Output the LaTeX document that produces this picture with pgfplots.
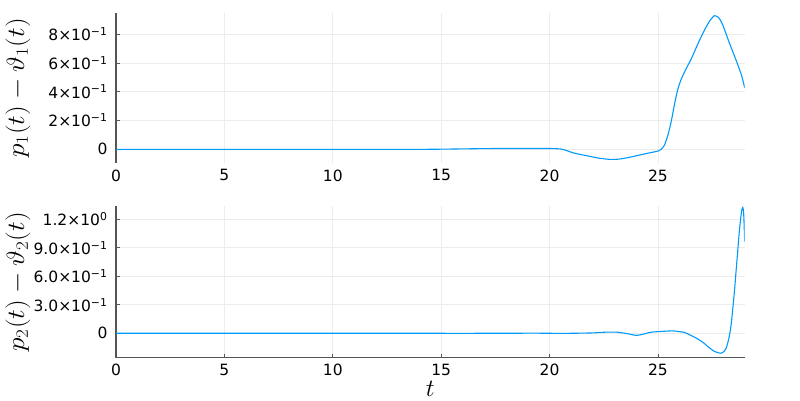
\documentclass[border=0pt]{standalone}
\usepackage{fontspec}
\setmainfont{DejaVu Sans}
\usepackage{pgfplots}
\pgfplotsset{compat=1.18}
\definecolor{jblue}{RGB}{0,154,250}
\definecolor{spine}{RGB}{85,85,85}
\definecolor{gridc}{RGB}{236,236,236}
\pgfplotsset{jl/.style={
  scale only axis, width=628.7pt, xmin=0, xmax=29,
  axis x line*=bottom, axis y line*=left,
  xtick={0,5,...,25}, grid=major, major grid style={gridc, line width=0.7pt},
  tick align=inside, major tick length=4pt, tick style={spine, line width=0.8pt},
  axis line style={spine, line width=1.1pt},
  ticklabel style={font=\fontsize{15.5}{17}\selectfont},
  yticklabel style={xshift=-5pt}, xticklabel style={yshift=-3pt},
  /pgf/number format/assume math mode=true,
  every axis y label/.style={at={(axis description cs:-0.156,0.5)}, rotate=90, anchor=center, font=\fontsize{25}{27}\selectfont},
}}
\tikzset{jline/.style={color=jblue, line width=1.1pt, mark=none, smooth, tension=0.4}}
\begin{document}
\begin{tikzpicture}
\path[use as bounding box] (0,0) rectangle (800pt,400pt);
\begin{axis}[jl, at={(116pt,237pt)}, anchor=south west, height=150.3pt,
  ymin=-0.095, ymax=0.949,
  x axis line style={draw=none}, xtick style={draw=none},
  ytick={0,0.2,0.4,0.6,0.8},
  yticklabels={0, {2×10\textsuperscript{−1}}, {4×10\textsuperscript{−1}}, {6×10\textsuperscript{−1}}, {8×10\textsuperscript{−1}}},
  ylabel={\scalebox{1.1}[1]{$p_1(t) - \vartheta_1(t)$}}]
\addplot[jline] coordinates {(0,0)(5,0)(10,0)(14,0)(15,0.001)(16,0.003)(17,0.005)(18,0.006)(19,0.006)(19.6,0.006)(20.2,0.005)(20.6,0.0)(21.1,-0.025)(21.5,-0.038)(21.9,-0.05)(22.3,-0.062)(22.8,-0.07)(23.2,-0.068)(23.7,-0.055)(24.2,-0.038)(24.6,-0.025)(25.0,-0.012)(25.15,0.0)(25.3,0.03)(25.46,0.10)(25.62,0.2)(25.77,0.32)(25.92,0.42)(26.08,0.49)(26.3,0.56)(26.54,0.63)(26.85,0.736)(27.15,0.83)(27.38,0.89)(27.6,0.928)(27.8,0.915)(27.99,0.863)(28.3,0.736)(28.6,0.62)(28.85,0.516)(29,0.426)};
\end{axis}
\begin{axis}[jl, at={(116pt,42.3pt)}, anchor=south west, height=151.7pt,
  ymin=-0.257, ymax=1.34,
  ytick={0,0.3,0.6,0.9,1.2},
  yticklabels={0, {3.0×10\textsuperscript{−1}}, {6.0×10\textsuperscript{−1}}, {9.0×10\textsuperscript{−1}}, {1.2×10\textsuperscript{0}}},
  ylabel={\scalebox{1.1}[1]{$p_2(t) - \vartheta_2(t)$}},
  xlabel={$t$},
  every axis x label/.style={at={(axis description cs:0.5,0)}, yshift=-31pt, anchor=center, inner sep=0pt, font=\fontsize{25}{27}\selectfont}]
\addplot[jline] coordinates {(0,0)(10,0)(18,0)(19,0.002)(20,0.0)(21,0.0)(22,0.004)(22.6,0.012)(23.1,0.012)(23.6,-0.005)(24.0,-0.022)(24.3,-0.01)(24.7,0.012)(25.2,0.02)(25.7,0.025)(26.2,0.01)(26.5,-0.02)(26.8,-0.055)(27.1,-0.1)(27.3,-0.14)(27.6,-0.19)(27.9,-0.21)(28.05,-0.19)(28.14,-0.16)(28.22,-0.1)(28.3,-0.02)(28.38,0.1)(28.45,0.26)(28.53,0.45)(28.6,0.65)(28.68,0.87)(28.75,1.07)(28.82,1.22)(28.87,1.30)(28.91,1.325)(28.95,1.27)(28.98,1.1)(29,0.964)};
\end{axis}
\end{tikzpicture}
\end{document}
